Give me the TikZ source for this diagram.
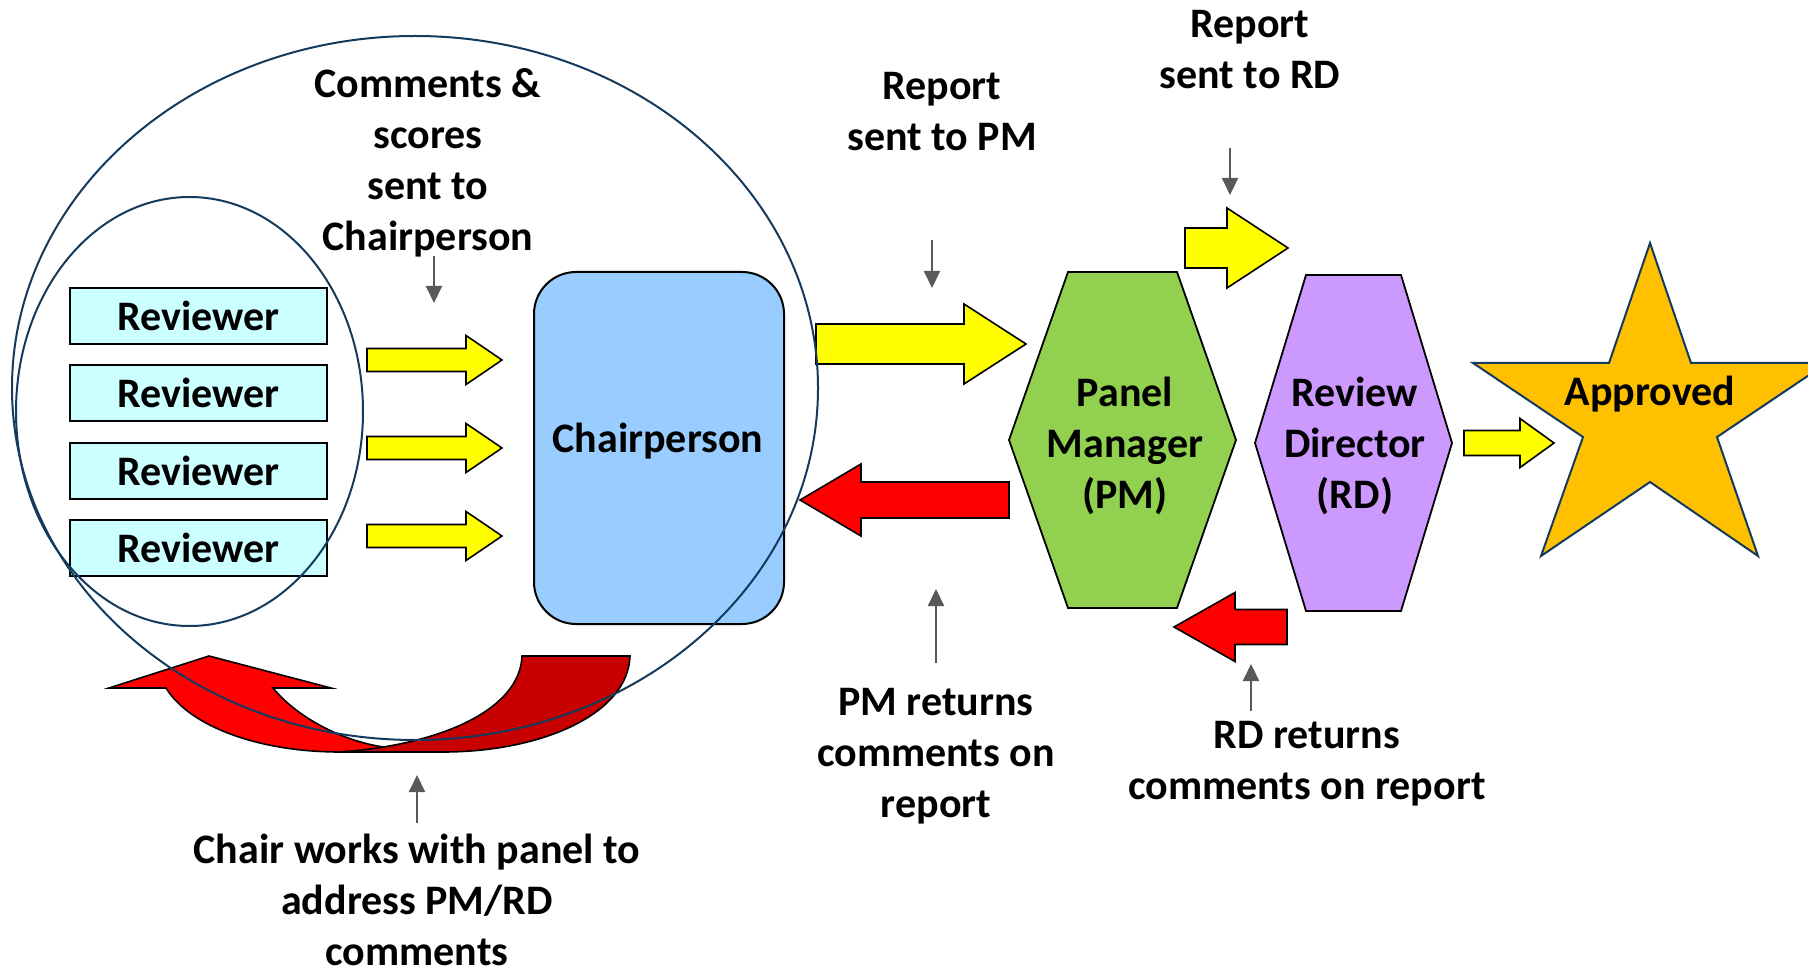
\documentclass[tikz,border=0pt]{standalone}
\usepackage{fontspec}
\setmainfont{Carlito}
\usetikzlibrary{arrows.meta}
\definecolor{arrYellow}{HTML}{FFFF00}
\definecolor{arrRed}{HTML}{FF0000}
\definecolor{arrDark}{HTML}{C80000}
\definecolor{revFill}{HTML}{CCFFFF}
\definecolor{chairFill}{HTML}{99CCFF}
\definecolor{pmFill}{HTML}{92D050}
\definecolor{rdFill}{HTML}{CC99FF}
\definecolor{starFill}{HTML}{FFC000}
\definecolor{navy}{HTML}{143A5E}
\definecolor{ptrGray}{HTML}{595959}
\newcommand{\myblockarrow}[7]{%
  \draw[#1] (#2,{#5-#6}) -- (#3,{#5-#6}) -- (#3,{#5-#7}) -- (#4,#5) -- (#3,{#5+#7}) -- (#3,{#5+#6}) -- (#2,{#5+#6}) -- cycle;}
\begin{document}
\begin{tikzpicture}[x=0.5pt,y=-0.5pt,
  font=\fontsize{21}{25.5}\selectfont\bfseries,
  yarrow/.style={fill=arrYellow, draw=black, line width=0.8pt, line join=miter},
  rarrow/.style={fill=arrRed, draw=black, line width=0.8pt, line join=miter},
  darrow/.style={fill=arrDark, draw=black, line width=0.8pt},
  ptr/.style={draw=ptrGray, line width=1pt, -{Triangle[length=8.5pt,width=8pt]}},
  lbl/.style={align=center, inner sep=0pt},
  revbox/.style={draw=black, line width=1pt, fill=revFill, minimum width=128.5pt, minimum height=28pt, inner sep=0pt},
  ring/.style={draw=navy, line width=1pt}
]
\useasboundingbox (0,0) rectangle (1808,972);

% curved red arrow (bottom left)
\draw[rarrow] (109,688) -- (209,656) -- (331,688) -- (273,688)
  .. controls (295,715) and (340,742) .. (390,748) -- (340,752)
  .. controls (260,752) and (190,727) .. (166,688) -- cycle;
\draw[darrow] (522,656) -- (630,656)
  .. controls (628,715) and (540,752) .. (443,752) -- (340,752)
  .. controls (440,745) and (520,710) .. (522,656) -- cycle;

% reviewer boxes
\node[revbox] (r1) at (198.5,316) {Reviewer};
\node[revbox] (r2) at (198.5,393) {Reviewer};
\node[revbox] (r3) at (198.5,471) {Reviewer};
\node[revbox] (r4) at (198.5,548) {Reviewer};

% chairperson
\node[draw=black, line width=1pt, fill=chairFill, rounded corners=21pt,
  minimum width=125pt, minimum height=176pt, inner sep=0pt] (chair) at (659,448) {};
\node[lbl] (chairtxt) at (658,441) {Chairperson};

% reviewer -> chair arrows
\myblockarrow{yarrow}{367}{466}{502}{360}{11.5}{24.5}
\myblockarrow{yarrow}{367}{466}{502}{448}{11.5}{24.5}
\myblockarrow{yarrow}{367}{466}{502}{536}{11.5}{24.5}

% chair -> PM, PM -> chair
\myblockarrow{yarrow}{816}{964}{1026}{344}{20}{40}
\myblockarrow{rarrow}{1009}{861}{800}{500}{18}{36}

% hexagons
\draw[fill=pmFill, draw=black, line width=0.9pt] (1068,272) -- (1177,272) -- (1236,440) -- (1177,608) -- (1068,608) -- (1009,440) -- cycle;
\node[lbl] (pm) at (1125,446) {Panel\\Manager\\(PM)};
\draw[fill=rdFill, draw=black, line width=0.9pt] (1306,275) -- (1401,275) -- (1452,443) -- (1401,611) -- (1306,611) -- (1255,443) -- cycle;
\node[lbl] (rd) at (1355,446) {Review\\Director\\(RD)};

% PM -> RD, RD -> PM
\myblockarrow{yarrow}{1185}{1227}{1288}{248}{20}{40}
\myblockarrow{rarrow}{1287}{1235}{1174}{627}{17.5}{34.5}

% RD -> star
\myblockarrow{yarrow}{1464}{1520}{1554}{443}{12.5}{24.5}

% star
\draw[fill=starFill, draw=navy, line width=1pt, line join=miter]
  (1650,243) -- (1691,363) -- (1827,363) -- (1717,437) -- (1758,556) -- (1650,482)
  -- (1541,556) -- (1583,437) -- (1473,363) -- (1609,363) -- cycle;
\node[lbl] (appr) at (1650,394) {Approved};

% labels
\node[lbl] (cmt) at (428,163) {Comments \&\\scores\\sent to\\Chairperson};
\node[lbl] (rpm) at (942,112) {Report\\sent to PM};
\node[lbl] (rrd) at (1250,50) {Report\\sent to RD};
\node[lbl] (pmr) at (936,756) {PM returns\\comments on\\report};
\node[lbl] (rdr) at (1307,764) {RD returns\\comments on report};
\node[lbl] (chw) at (417,900) {Chair works with panel to\\address PM/RD\\comments};

% gray pointers
\coordinate (p1s) at (434,256); \coordinate (p1e) at (434,303);
\coordinate (p2s) at (932,240); \coordinate (p2e) at (932,288);
\coordinate (p3s) at (1230,148); \coordinate (p3e) at (1230,195);
\coordinate (p4s) at (936,663); \coordinate (p4e) at (936,589);
\coordinate (p5s) at (1251,711); \coordinate (p5e) at (1251,664);
\coordinate (p6s) at (417,823); \coordinate (p6e) at (417,775);
\draw[ptr] (p1s) -- (p1e);
\draw[ptr] (p2s) -- (p2e);
\draw[ptr] (p3s) -- (p3e);
\draw[ptr] (p4s) -- (p4e);
\draw[ptr] (p5s) -- (p5e);
\draw[ptr] (p6s) -- (p6e);

% ellipses on top
\draw[ring] (189.5,411.5) ellipse [x radius=86.75pt, y radius=107.25pt];
\draw[ring] (415,388) ellipse [x radius=201.5pt, y radius=176pt];
\end{tikzpicture}
\end{document}
